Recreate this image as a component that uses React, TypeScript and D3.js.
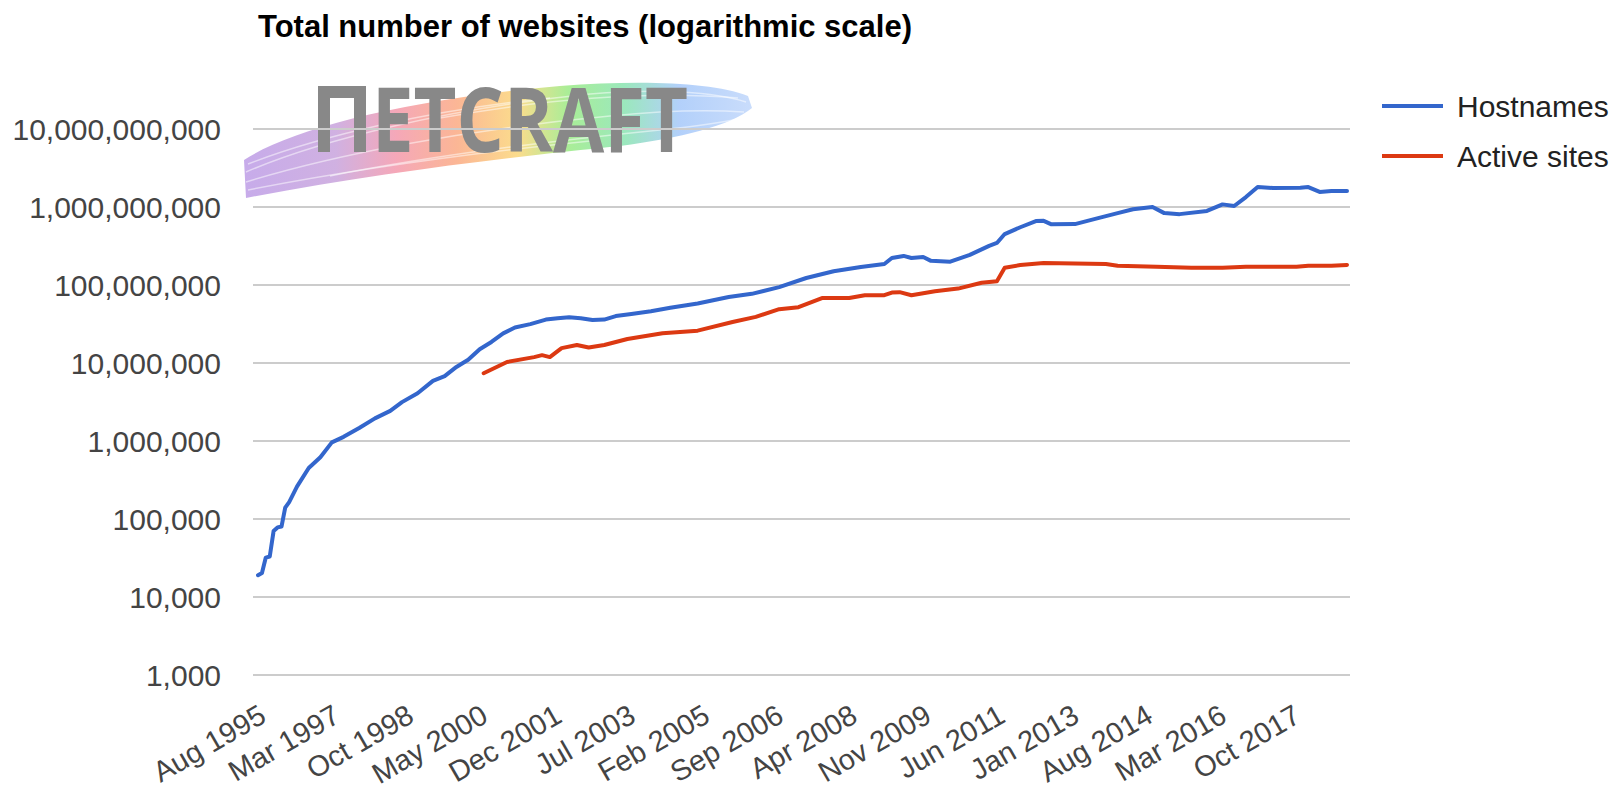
import React from 'react';
import * as d3 from 'd3';

const TITLE = 'Total number of websites (logarithmic scale)';
const seriesNames = ['Hostnames', 'Active sites'];
const seriesColors = ['#3366cc', '#dc3912'];
const yTickValues = [1e3, 1e4, 1e5, 1e6, 1e7, 1e8, 1e9, 1e10];
const xTickLabels = [
  'Aug 1995', 'Mar 1997', 'Oct 1998', 'May 2000', 'Dec 2001', 'Jul 2003', 'Feb 2005',
  'Sep 2006', 'Apr 2008', 'Nov 2009', 'Jun 2011', 'Jan 2013', 'Aug 2014', 'Mar 2016', 'Oct 2017',
];
const xDomain = ['1995-08', '2018-12'];

const hostnames: [string, number][] = [
  ['1995-08', 19000], ['1995-09', 20300], ['1995-10', 32000], ['1995-11', 33000],
  ['1995-12', 70000], ['1996-01', 78000], ['1996-02', 80000], ['1996-03', 140000],
  ['1996-04', 165000], ['1996-06', 260000], ['1996-09', 450000], ['1996-12', 620000],
  ['1997-03', 960000], ['1997-06', 1130000], ['1997-10', 1470000], ['1998-02', 1950000],
  ['1998-06', 2430000], ['1998-09', 3150000], ['1999-01', 4100000], ['1999-05', 5900000],
  ['1999-08', 6800000], ['1999-11', 8900000], ['2000-02', 11000000], ['2000-05', 15000000],
  ['2000-08', 18600000], ['2000-11', 24000000], ['2001-02', 28500000], ['2001-06', 31500000],
  ['2001-10', 36000000], ['2002-01', 37500000], ['2002-04', 38500000], ['2002-07', 37500000],
  ['2002-10', 35500000], ['2003-01', 36000000], ['2003-04', 40000000], ['2003-08', 42500000],
  ['2004-01', 46000000], ['2004-06', 51000000], ['2005-01', 58000000], ['2005-09', 70000000],
  ['2006-03', 77000000], ['2006-10', 94000000], ['2007-05', 123000000], ['2007-12', 150000000],
  ['2008-07', 170000000], ['2009-01', 186000000], ['2009-03', 222000000], ['2009-06', 236000000],
  ['2009-08', 222000000], ['2009-11', 229000000], ['2010-01', 204000000], ['2010-06', 199000000],
  ['2010-11', 243000000], ['2011-04', 317000000], ['2011-06', 346000000], ['2011-08', 450000000],
  ['2011-12', 550000000], ['2012-04', 660000000], ['2012-06', 665000000], ['2012-08', 600000000],
  ['2013-02', 604000000], ['2013-08', 720000000], ['2014-01', 835000000], ['2014-05', 936000000],
  ['2014-10', 1000000000], ['2015-01', 835000000], ['2015-05', 810000000], ['2015-12', 890000000],
  ['2016-04', 1080000000], ['2016-07', 1030000000], ['2016-10', 1340000000], ['2017-01', 1800000000],
  ['2017-05', 1750000000], ['2017-12', 1760000000], ['2018-02', 1800000000], ['2018-05', 1560000000],
  ['2018-08', 1600000000], ['2018-12', 1600000000],
];

const activeSites: [string, number][] = [
  ['2000-06', 7400000], ['2000-12', 10300000], ['2001-07', 11900000], ['2001-09', 12600000],
  ['2001-11', 11900000], ['2002-02', 15500000], ['2002-06', 17000000], ['2002-09', 15800000],
  ['2003-01', 17000000], ['2003-07', 20300000], ['2004-04', 24000000], ['2005-01', 26000000],
  ['2005-10', 33500000], ['2006-04', 39000000], ['2006-10', 49000000], ['2007-03', 52000000],
  ['2007-09', 68000000], ['2008-04', 68000000], ['2008-08', 74000000], ['2009-01', 74000000],
  ['2009-03', 80000000], ['2009-05', 81000000], ['2009-08', 74000000], ['2010-02', 83000000],
  ['2010-08', 90000000], ['2011-02', 107000000], ['2011-06', 112000000], ['2011-08', 166000000],
  ['2011-12', 180000000], ['2012-06', 191000000], ['2013-10', 186000000], ['2014-01', 176000000],
  ['2014-11', 171000000], ['2015-08', 166000000], ['2016-04', 166000000], ['2016-10', 171000000],
  ['2017-05', 171000000], ['2017-11', 171000000], ['2018-02', 176000000], ['2018-08', 176000000],
  ['2018-12', 181000000],
];

const W = 1621;
const H = 789;
const FONT = "'Liberation Sans', Arial, sans-serif";

const parseMonth = d3.timeParse('%Y-%m');
const parseLabel = d3.timeParse('%b %Y');

export default function App() {
  const x = d3.scaleTime()
    .domain(xDomain.map((s) => parseMonth(s) as Date))
    .range([258, 1347]);
  const y = d3.scaleLog().domain([1e3, 1e10]).range([675, 129]);
  const gridX0 = 253;
  const gridX1 = 1350;
  const fmt = d3.format(',');
  const line = d3.line<[string, number]>()
    .x((d) => x(parseMonth(d[0]) as Date))
    .y((d) => y(d[1]));
  const series = [hostnames, activeSites];

  const streaks = [
    'M246,172 C320,140 450,108 590,94 C660,88 715,92 746,102',
    'M246,182 C330,156 460,130 610,116 C670,110 714,110 744,112',
    'M248,190 C340,172 460,154 600,140',
    'M248,164 C320,136 430,110 550,98',
    'M330,176 C430,156 540,142 660,130 C700,126 725,122 742,118',
    'M440,118 C540,100 640,90 738,98',
  ];

  return (
    <svg
      width={W}
      height={H}
      style={{ position: 'absolute', left: 0, top: 0, background: '#fff' }}
      fontFamily={FONT}
    >
      <defs>
        <linearGradient id="rainbow" x1="245" y1="0" x2="750" y2="0" gradientUnits="userSpaceOnUse">
          <stop offset="0" stopColor="#c2a4e8" />
          <stop offset="0.18" stopColor="#ccaadf" />
          <stop offset="0.3" stopColor="#f4a0b2" />
          <stop offset="0.42" stopColor="#fbb08c" />
          <stop offset="0.54" stopColor="#fbd982" />
          <stop offset="0.64" stopColor="#a2ec8e" />
          <stop offset="0.75" stopColor="#92e6b6" />
          <stop offset="0.86" stopColor="#acccfa" />
          <stop offset="1" stopColor="#c4d9fb" />
        </linearGradient>
      </defs>

      {/* watermark logo */}
      <g>
        <path
          d="M244,160 C290,130 400,100 560,86 C640,80 712,82 748,96 L752,108 C730,126 680,138 620,146 C520,156 380,172 246,198 Z"
          fill="url(#rainbow)"
          opacity={0.92}
        />
        {streaks.map((d, i) => (
          <path key={i} d={d} fill="none" stroke="#fff" strokeWidth={1.5} opacity={0.5} />
        ))}
        <path d="M318,86 H366 V152 H354 V98 H330 V152 H318 Z" fill="#888888" />
        <text
          x={372}
          y={152}
          fontFamily="'Open Sans', 'DejaVu Sans', sans-serif"
          fontWeight={700}
          fontSize={90}
          fill="#888888"
          textLength={316}
          lengthAdjust="spacingAndGlyphs"
        >
          ETCRAFT
        </text>
      </g>

      {/* title */}
      <text x={258} y={37} fontSize={31} fontWeight={700} fill="#000">
        {TITLE}
      </text>

      {/* gridlines and y labels */}
      {yTickValues.map((v) => (
        <g key={v}>
          <line x1={gridX0} x2={gridX1} y1={y(v)} y2={y(v)} stroke="#cccccc" strokeWidth={2} />
          <text x={221} y={y(v) + 10.5} fontSize={30} fill="#444" textAnchor="end">
            {fmt(v)}
          </text>
        </g>
      ))}

      {/* x labels */}
      {xTickLabels.map((lab) => {
        const tx = x(parseLabel(lab) as Date);
        return (
          <text
            key={lab}
            transform={`translate(${tx + 10},${721}) rotate(-30)`}
            fontSize={29}
            fill="#444"
            textAnchor="end"
          >
            {lab}
          </text>
        );
      })}

      {/* series lines */}
      {series.map((s, i) => (
        <path
          key={seriesNames[i]}
          d={line(s) || ''}
          fill="none"
          stroke={seriesColors[i]}
          strokeWidth={4}
          strokeLinejoin="round"
          strokeLinecap="round"
        />
      ))}

      {/* legend */}
      {seriesNames.map((n, i) => (
        <g key={n}>
          <line x1={1382} x2={1443} y1={106 + i * 50} y2={106 + i * 50} stroke={seriesColors[i]} strokeWidth={4} />
          <text x={1457} y={106 + i * 50 + 11} fontSize={30} fill="#222">
            {n}
          </text>
        </g>
      ))}
    </svg>
  );
}
